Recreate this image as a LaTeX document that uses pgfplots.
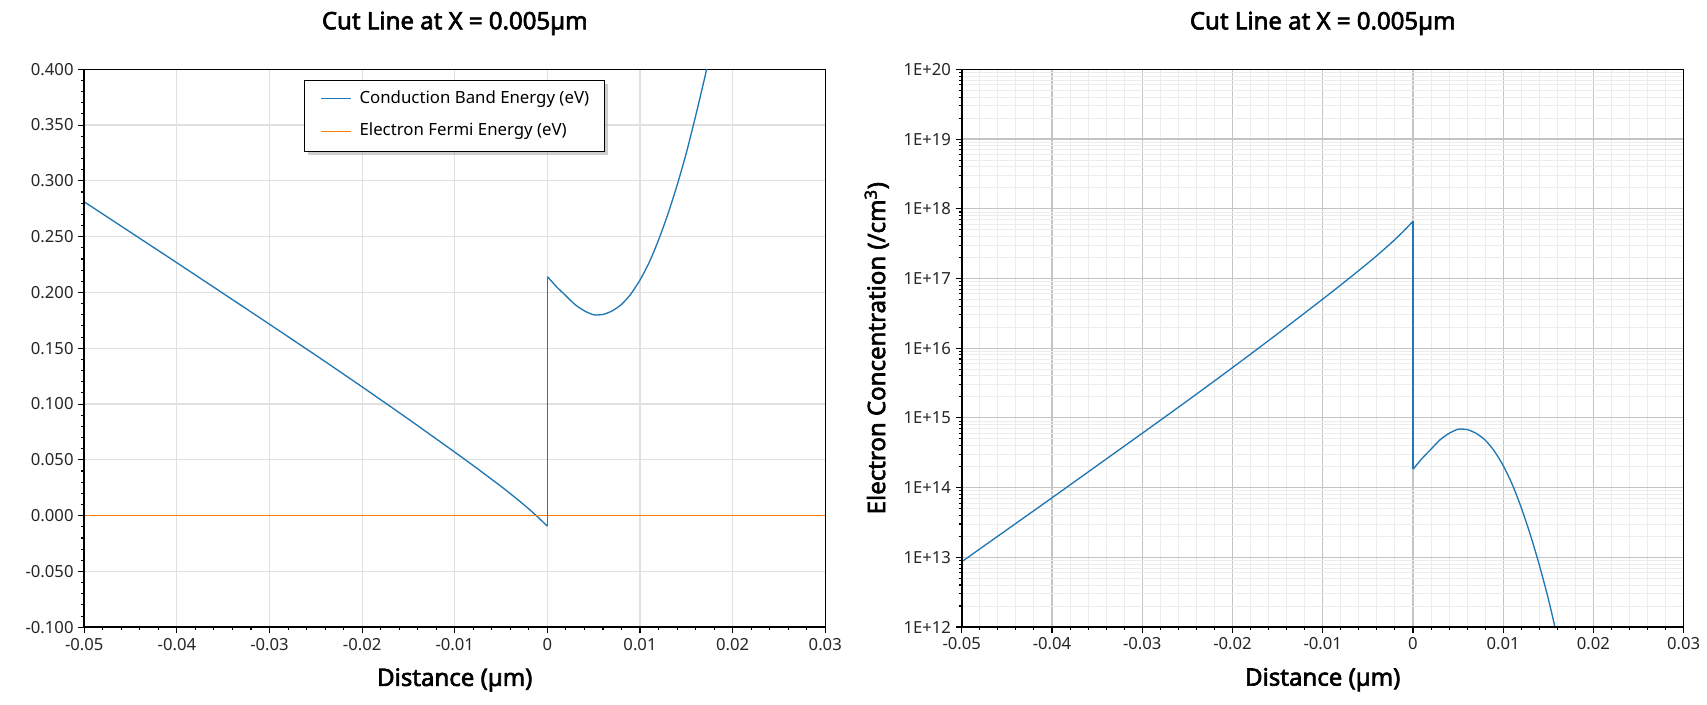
\documentclass[border=0pt]{standalone}
\usepackage{fontspec}
\setmainfont{Noto Sans}
\newfontfamily\bfont{Noto Sans}[FakeBold=2.5]
\usepackage{pgfplots}
\pgfplotsset{compat=1.18}
\usetikzlibrary{shadows}
\definecolor{cb}{HTML}{1F77B4}
\definecolor{ef}{HTML}{FF7F0E}
\definecolor{gridl}{HTML}{E0E0E0}
\definecolor{gridmaj}{HTML}{C4C4C4}
\definecolor{gridmin}{HTML}{ECECEC}

% conduction band, left of the interface
\pgfplotstableread{
x y
-0.050 0.2812
-0.045 0.2539
-0.040 0.2266
-0.035 0.1991
-0.030 0.1715
-0.025 0.1437
-0.020 0.1154
-0.015 0.0865
-0.010 0.0569
-0.0075 0.0418
-0.005 0.0262
-0.004 0.0197
-0.003 0.0130
-0.002 0.0060
-0.001 -0.0015
0.000 -0.0095
}\cbleft
% jump at the interface
\pgfplotstableread{
x y
0.000 -0.0095
0.000 0.2142
}\cbjump
% conduction band, right of the interface
\pgfplotstableread{
x y
0.000 0.2142
0.001 0.2050
0.002 0.1970
0.003 0.1890
0.004 0.1835
0.005 0.1800
0.006 0.1803
0.007 0.1835
0.008 0.1893
0.009 0.1985
0.010 0.2112
0.011 0.2270
0.012 0.2470
0.013 0.2700
0.014 0.2960
0.015 0.3250
0.016 0.3580
0.017 0.3930
0.0175 0.4120
}\cbright

\pgfplotstableread{
x y
-0.05 0
0.03 0
}\eftable

\pgfplotstableread{
x n
-0.050 8.63e12
-0.045 2.48e13
-0.040 7.13e13
-0.035 2.07e14
-0.030 6.01e14
-0.025 1.76e15
-0.020 5.26e15
-0.015 1.61e16
-0.010 5.06e16
-0.0075 9.08e16
-0.005 1.66e17
-0.004 2.13e17
-0.003 2.77e17
-0.002 3.62e17
-0.001 4.84e17
0.000 6.61e17
}\nleft
\pgfplotstableread{
x n
0.000 6.61e17
0.000 1.83e14
}\njump
\pgfplotstableread{
x n
0.000 1.83e14
0.001 2.61e14
0.002 3.56e14
0.003 4.85e14
0.004 6.00e14
0.005 6.87e14
0.006 6.79e14
0.007 6.00e14
0.008 4.80e14
0.009 3.36e14
0.010 2.06e14
0.011 1.11e14
0.012 5.14e13
0.013 2.11e13
0.014 7.73e12
0.015 2.52e12
0.016 7.03e11
0.017 1.82e11
0.0175 8.69e10
}\nright

\pgfplotsset{
  common/.style={
    scale only axis,
    xmin=-0.05, xmax=0.03,
    xtick={-0.05,-0.04,-0.03,-0.02,-0.01,0,0.01,0.02,0.03},
    xticklabels={-0.05,-0.04,-0.03,-0.02,-0.01,0,0.01,0.02,0.03},
    scaled x ticks=false,
    minor x tick num=4,
    tick pos=left,
    tick align=outside,
    major tick length=4.5pt,
    minor tick length=2.3pt,
    every tick/.style={black, line width=0.8pt},
    axis line style={black, line width=0.75pt},
    tick label style={font=\fontsize{12.5}{14}\selectfont, text=black!85},
    title style={font=\bfont\fontsize{18}{20}\selectfont, at={(axis description cs:0.5,1)}, anchor=base, yshift=24pt},
    xlabel style={font=\bfont\fontsize{18}{20}\selectfont, at={(axis description cs:0.5,0)}, anchor=base, yshift=-44pt},
    after end axis/.code={
      \draw[black, line width=1.6pt] (rel axis cs:0,1) -- (rel axis cs:0,0) -- (rel axis cs:1,0);
    },
  },
}

\begin{document}
\begin{tikzpicture}
\path[use as bounding box] (0pt,0pt) rectangle (1280.25pt,528.75pt);

\begin{axis}[
  common,
  at={(63.2pt,58.3pt)},
  anchor=south west,
  width=555.75pt, height=418.5pt,
  ymin=-0.1, ymax=0.4,
  ytick={-0.1,-0.05,0,0.05,0.1,0.15,0.2,0.25,0.3,0.35,0.4},
  yticklabels={-0.100,-0.050,0.000,0.050,0.100,0.150,0.200,0.250,0.300,0.350,0.400},
  scaled y ticks=false,
  minor y tick num=4,
  grid=major,
  major grid style={gridl, line width=0.9pt},
  title={Cut Line at X = 0.005µm},
  xlabel={Distance (µm)},
  legend cell align=left,
  legend style={at={(0.2969,0.9808)}, anchor=north west, draw=black, line width=0.75pt, fill=white,
    drop shadow={shadow xshift=2.6pt, shadow yshift=-2.6pt, fill=black!38},
    font=\fontsize{12.6}{14}\selectfont, inner xsep=11.8pt, inner ysep=9pt,
    row sep=14pt, column sep=5.8pt,
    nodes={inner sep=0pt, text height=8pt, text depth=2.5pt}},
  legend image code/.code={%
    \begin{scope}[#1]
      \pgfsetlinewidth{1pt}%
      \pgfpathmoveto{\pgfpoint{0pt}{0.5pt}}%
      \pgfpathlineto{\pgfpoint{22.5pt}{0.5pt}}%
      \pgfusepath{stroke}%
    \end{scope}},
]
\addplot[cb, line width=1pt, smooth, tension=0.4] table[x=x, y=y] {\cbleft};
\addlegendentry{Conduction Band Energy (eV)}
\addplot[ef, line width=1pt] table[x=x, y=y] {\eftable};
\addlegendentry{Electron Fermi Energy (eV)}
\addplot[cb, line width=1pt, forget plot] table[x=x, y=y] {\cbjump};
\addplot[cb, line width=1pt, smooth, tension=0.4, forget plot] table[x=x, y=y] {\cbright};
\end{axis}

\begin{axis}[
  common,
  at={(721.3pt,58.5pt)},
  anchor=south west,
  width=541.5pt, height=418.2pt,
  ymode=log,
  ymin=1e12, ymax=1e20,
  ytick={1e12,1e13,1e14,1e15,1e16,1e17,1e18,1e19,1e20},
  yticklabels={1E+12,1E+13,1E+14,1E+15,1E+16,1E+17,1E+18,1E+19,1E+20},
  grid=both,
  major grid style={gridmaj, line width=0.9pt},
  minor grid style={gridmin, line width=0.7pt},
  title={Cut Line at X = 0.005µm},
  xlabel={Distance (µm)},
  ylabel={Electron Concentration (/cm\textsuperscript{3})},
  ylabel style={font=\bfont\fontsize{18}{20}\selectfont, at={(axis description cs:-0.1062,0.5)}, anchor=base},
]
\addplot[cb, line width=1pt, smooth, tension=0.4] table[x=x, y=n] {\nleft};
\addplot[cb, line width=1pt] table[x=x, y=n] {\njump};
\addplot[cb, line width=1pt, smooth, tension=0.4] table[x=x, y=n] {\nright};
\end{axis}
\end{tikzpicture}
\end{document}
